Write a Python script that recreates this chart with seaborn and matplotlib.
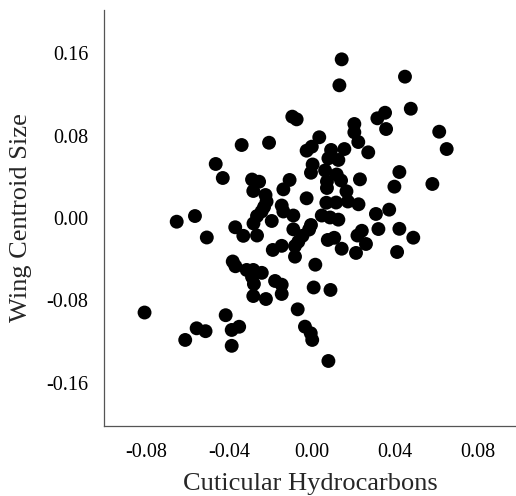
import matplotlib

matplotlib.use("Agg")
import matplotlib.pyplot as plt
import pandas as pd
import seaborn as sns

# values
cuticular_hc = [
    0.0143, 0.0132, 0.0448, -0.0095, -0.0074, 0.0352, 0.0315, 0.0357, 0.0476, 0.0204,
    0.0204, 0.0613, 0.0649, -0.0207, 0.0035, 0.0223, -0.0026, -0.0001, 0.0092, 0.0156,
    0.0271, 0.0079, 0.0127, -0.0339, -0.0464, 0.0003, -0.0005, 0.0063, 0.0119, 0.0072,
    0.0140, 0.0231, 0.0421, 0.0397, 0.0580, -0.0430, -0.0289, -0.0283, -0.0255, -0.0108,
    -0.0138, 0.0072, 0.0166, -0.0224, -0.0219, -0.0231, -0.0026, 0.0069, 0.0116, 0.0173,
    0.0224, -0.0146, -0.0138, -0.0090, -0.0243, -0.0265, -0.0282, -0.0194, 0.0047, 0.0087,
    0.0127, 0.0308, 0.0372, 0.0320, 0.0421, 0.0488, 0.0410, -0.0005, -0.0014, -0.0090,
    -0.0265, -0.0046, -0.0066, -0.0082, 0.0076, 0.0107, 0.0240, 0.0219, 0.0260, 0.0143,
    0.0212, -0.0189, -0.0146, -0.0082, 0.0016, -0.0242, -0.0283, -0.0289, -0.0280, -0.0178,
    -0.0146, 0.0008, 0.0089, -0.0283, -0.0222, -0.0146, -0.0069, -0.0034, -0.0006, 0.0001,
    0.0079, -0.0807, -0.0556, -0.0513, -0.0611, -0.0416, -0.0387, -0.0351, -0.0387, -0.0652,
    -0.0564, -0.0507, -0.0370, -0.0331, -0.0382, -0.0369, -0.0315,
]
wing_size = [
    0.1539, 0.1287, 0.1371, 0.0983, 0.0957, 0.1021, 0.0967, 0.0863, 0.1060, 0.0912,
    0.0831, 0.0837, 0.0669, 0.0730, 0.0783, 0.0737, 0.0653, 0.0692, 0.0660, 0.0669,
    0.0637, 0.0579, 0.0563, 0.0708, 0.0524, 0.0519, 0.0439, 0.0461, 0.0422, 0.0354,
    0.0364, 0.0375, 0.0446, 0.0304, 0.0330, 0.0388, 0.0373, 0.0262, 0.0352, 0.0369,
    0.0278, 0.0291, 0.0259, 0.0223, 0.0160, 0.0107, 0.0191, 0.0148, 0.0150, 0.0160,
    0.0133, 0.0121, 0.0063, 0.0024, 0.0063, 0.0019, -0.0053, -0.0029, 0.0024, 0.0005,
    -0.0016, 0.0039, 0.0081, -0.0107, -0.0105, -0.0191, -0.0330, -0.0068, -0.0112, -0.0110,
    -0.0170, -0.0173, -0.0230, -0.0272, -0.0213, -0.0192, -0.0124, -0.0170, -0.0252, -0.0298,
    -0.0339, -0.0310, -0.0270, -0.0375, -0.0453, -0.0532, -0.0504, -0.0572, -0.0640, -0.0611,
    -0.0647, -0.0674, -0.0698, -0.0757, -0.0786, -0.0737, -0.0886, -0.1054, -0.1118, -0.1183,
    -0.1387, -0.0917, -0.1070, -0.1098, -0.1183, -0.0943, -0.1086, -0.1055, -0.1240, -0.0036,
    0.0019, -0.0189, -0.0090, -0.0173, -0.0422, -0.0468, -0.0504,
]
x_ticks = [-0.08, -0.04, 0.00, 0.04, 0.08]
y_ticks = [-0.16, -0.08, 0.00, 0.08, 0.16]

df = pd.DataFrame({"hc": cuticular_hc, "wing": wing_size})

sns.set_style("white")
plt.rcParams["font.family"] = ["Liberation Serif", "DejaVu Serif"]

fig = plt.figure(figsize=(5.16, 4.96), dpi=100)
ax = fig.add_axes([0.2021, 0.1417, 0.7979, 0.838])

sns.scatterplot(data=df, x="hc", y="wing", ax=ax, color="black", s=100,
                linewidth=0, edgecolor="none")

ax.set_xlim(-0.1001, 0.0983)
ax.set_ylim(-0.2015, 0.2017)
ax.set_xticks(x_ticks)
ax.set_yticks(y_ticks)
ax.set_xticklabels([f"{t:.2f}" for t in x_ticks])
ax.set_yticklabels([f"{t:.2f}" for t in y_ticks])

for side in ("top", "right"):
    ax.spines[side].set_visible(False)
for side in ("left", "bottom"):
    ax.spines[side].set_color("#555555")
    ax.spines[side].set_linewidth(0.9)

ax.tick_params(axis="both", direction="out", length=4.5, width=1.6, color="#222222",
               labelsize=14.5, labelcolor="black")
ax.tick_params(axis="x", pad=8)
ax.tick_params(axis="y", pad=7)
ax.set_xlabel("Cuticular Hydrocarbons", fontsize=19, labelpad=8)
ax.set_ylabel("Wing Centroid Size", fontsize=19, labelpad=10)

fig.savefig("out.png", dpi=100)
